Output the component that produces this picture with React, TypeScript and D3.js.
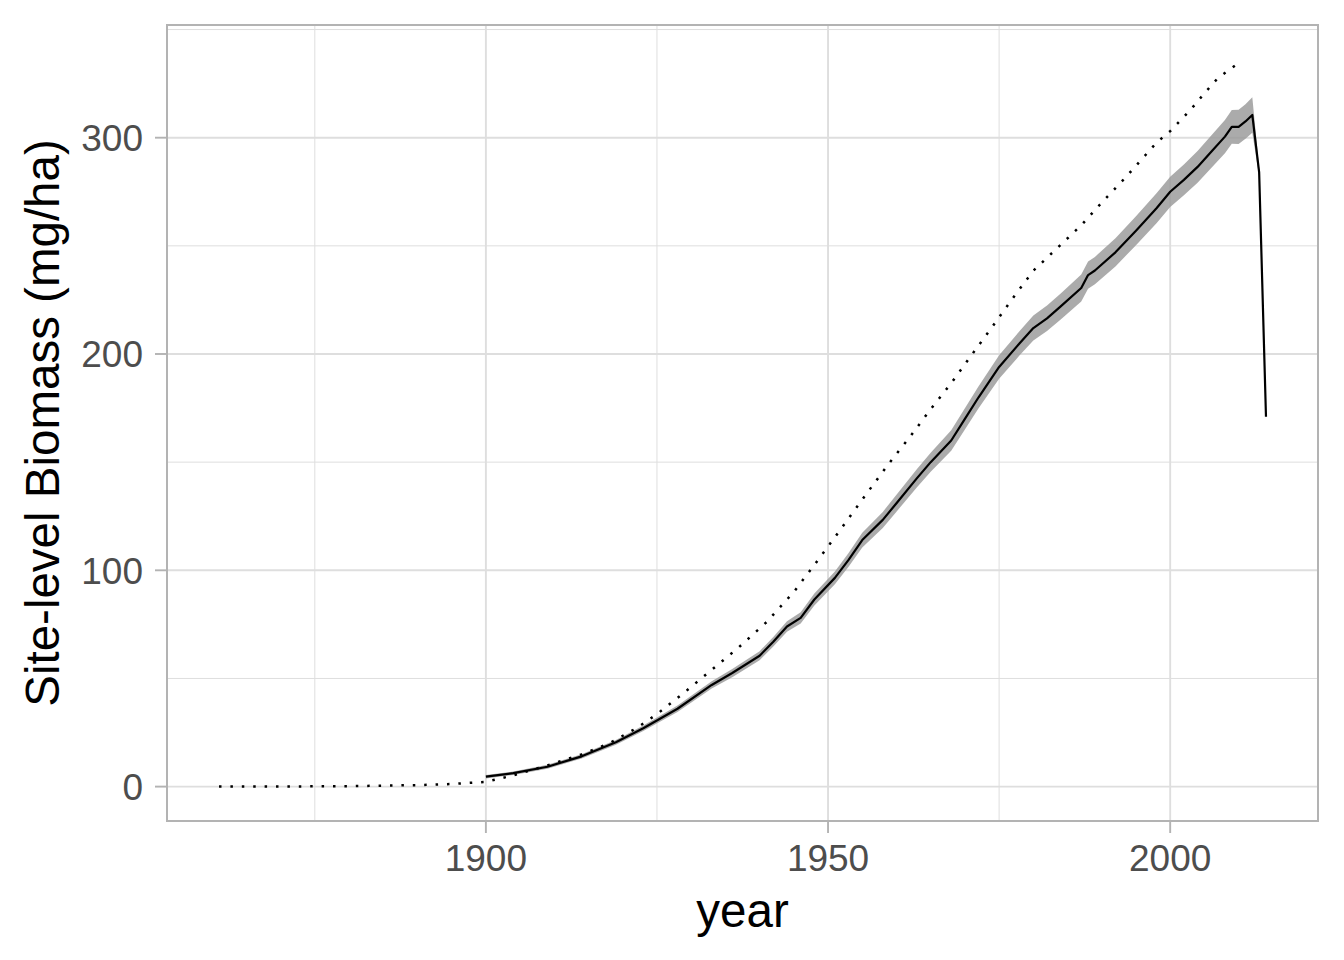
import React from "react";
import * as d3 from "d3";

// ---- data ----
const fitYears = [1900,1904,1909,1914,1919,1923,1928,1933,1936,1940,1942,1944,1946,1948,1951,1953,1955,1958,1960,1963,1965,1968,1970,1972,1975,1978,1980,1982,1984,1987,1988,1989,1992,1995,1998,2000,2002,2004,2006,2008,2009,2010,2011,2012,2013,2014];
const fitBiomass = [4.6,6.2,9.2,14,20.5,27,36,47,52.5,60.5,67,74,78,86.5,96.5,104.8,114,123.3,131,142.6,150,160,170,180,194,205,212,216.5,222,230.5,236.5,238.6,247,257,267.4,275,280.5,286.5,293.5,300.5,305,305,307.5,310.5,284,171];
const fitHalfWidth = [0.8,0.8,0.9,1.0,1.1,1.3,1.5,1.7,1.9,2.1,2.2,2.4,2.6,2.8,3.0,3.2,3.4,3.7,3.9,4.2,4.4,4.7,4.9,5.1,5.4,5.6,5.8,5.9,6.0,6.2,6.3,6.3,6.5,6.7,6.9,7.0,7.1,7.3,7.5,7.7,7.8,7.9,8.0,8.2,2.0,1.0];

const refYears = [1861,1870,1880,1890,1895,1900,1904,1909,1914,1918,1922,1925,1929,1933,1937,1941,1945,1948,1950,1953,1956,1959,1962,1965,1968,1971,1974,1977,1980,1983,1987,1990,1993,1995,1998,2000,2003,2005,2007,2010];
const refBiomass = [0,0.05,0.2,0.7,1.2,2.2,5.2,9.8,14.9,20,27,33.5,43.5,54,64.5,76,90,102.5,111,124,137,149.8,161.8,174.5,186.5,199.6,212.6,225.8,238.5,247.5,259.5,270,280,287,297.7,303,313,320.5,327.7,334.5];

const xMajorTicks = [1900, 1950, 2000];
const xMinorTicks = [1875, 1925, 1975];
const yMajorTicks = [0, 100, 200, 300];
const yMinorTicks = [50, 150, 250, 350];

const xTitle = "year";
const yTitle = "Site-level Biomass (mg/ha)";

// ---- layout ----
const W = 1344;
const H = 960;
const panel = { left: 167, right: 1318, top: 25, bottom: 821 };
const FONT = "'Liberation Sans', Arial, Helvetica, sans-serif";

export default function App() {
  const x = d3.scaleLinear().domain([1853.4, 2021.6]).range([panel.left, panel.right]);
  const y = d3.scaleLinear().domain([-15.9, 352.1]).range([panel.bottom, panel.top]);

  const fit = fitYears.map((yr, i) => ({ yr, v: fitBiomass[i], h: fitHalfWidth[i] }));
  const ref = refYears.map((yr, i) => ({ yr, v: refBiomass[i] }));

  const area = d3
    .area<{ yr: number; v: number; h: number }>()
    .x((d) => x(d.yr))
    .y0((d) => y(d.v - d.h))
    .y1((d) => y(d.v + d.h));
  const fitLine = d3
    .line<{ yr: number; v: number }>()
    .x((d) => x(d.yr))
    .y((d) => y(d.v));

  const gridMajor = "#DEDEDE";
  const axisGrey = "#B3B3B3";
  const tickText = "#4D4D4D";

  return (
    <svg width={W} height={H} style={{ display: "block", position: "absolute", left: 0, top: 0, background: "#fff" }}>
      <rect x={0} y={0} width={W} height={H} fill="#fff" />
      <defs>
        <clipPath id="panelClip">
          <rect x={panel.left} y={panel.top} width={panel.right - panel.left} height={panel.bottom - panel.top} />
        </clipPath>
      </defs>
      {/* minor grid */}
      {xMinorTicks.map((t) => (
        <line key={"xm" + t} x1={x(t)} x2={x(t)} y1={panel.top} y2={panel.bottom} stroke={gridMajor} strokeWidth={1} />
      ))}
      {yMinorTicks.map((t) => (
        <line key={"ym" + t} x1={panel.left} x2={panel.right} y1={y(t)} y2={y(t)} stroke={gridMajor} strokeWidth={1} />
      ))}
      {/* major grid */}
      {xMajorTicks.map((t) => (
        <line key={"xM" + t} x1={x(t)} x2={x(t)} y1={panel.top} y2={panel.bottom} stroke={gridMajor} strokeWidth={1.9} />
      ))}
      {yMajorTicks.map((t) => (
        <line key={"yM" + t} x1={panel.left} x2={panel.right} y1={y(t)} y2={y(t)} stroke={gridMajor} strokeWidth={1.9} />
      ))}

      <g clipPath="url(#panelClip)">
        <path d={area(fit) || ""} fill="#999999" fillOpacity={0.82} stroke="none" />
        <path d={fitLine(fit) || ""} fill="none" stroke="#000" strokeWidth={2.2} strokeLinejoin="round" />
        <path
          d={fitLine(ref) || ""}
          fill="none"
          stroke="#000"
          strokeWidth={2.5}
          strokeDasharray="2.5,8.9"
          strokeLinecap="butt"
        />
      </g>

      {/* panel border */}
      <rect
        x={panel.left}
        y={panel.top}
        width={panel.right - panel.left}
        height={panel.bottom - panel.top}
        fill="none"
        stroke={axisGrey}
        strokeWidth={2}
      />

      {/* x axis ticks and labels */}
      {xMajorTicks.map((t) => (
        <g key={"xt" + t}>
          <line x1={x(t)} x2={x(t)} y1={panel.bottom} y2={panel.bottom + 12} stroke={axisGrey} strokeWidth={1.9} />
          <text x={x(t)} y={871} textAnchor="middle" fontFamily={FONT} fontSize={37} fill={tickText}>
            {t}
          </text>
        </g>
      ))}
      {/* y axis ticks and labels */}
      {yMajorTicks.map((t) => (
        <g key={"yt" + t}>
          <line x1={panel.left - 12} x2={panel.left} y1={y(t)} y2={y(t)} stroke={axisGrey} strokeWidth={1.9} />
          <text
            x={143}
            y={y(t)}
            dy="0.36em"
            textAnchor="end"
            fontFamily={FONT}
            fontSize={37}
            fill={tickText}
          >
            {t}
          </text>
        </g>
      ))}

      {/* titles */}
      <text x={(panel.left + panel.right) / 2} y={927} textAnchor="middle" fontFamily={FONT} fontSize={47.5} fill="#000">
        {xTitle}
      </text>
      <text
        transform={`translate(59, ${(panel.top + panel.bottom) / 2}) rotate(-90)`}
        textAnchor="middle"
        fontFamily={FONT}
        fontSize={47.5}
        fill="#000"
      >
        {yTitle}
      </text>
    </svg>
  );
}
